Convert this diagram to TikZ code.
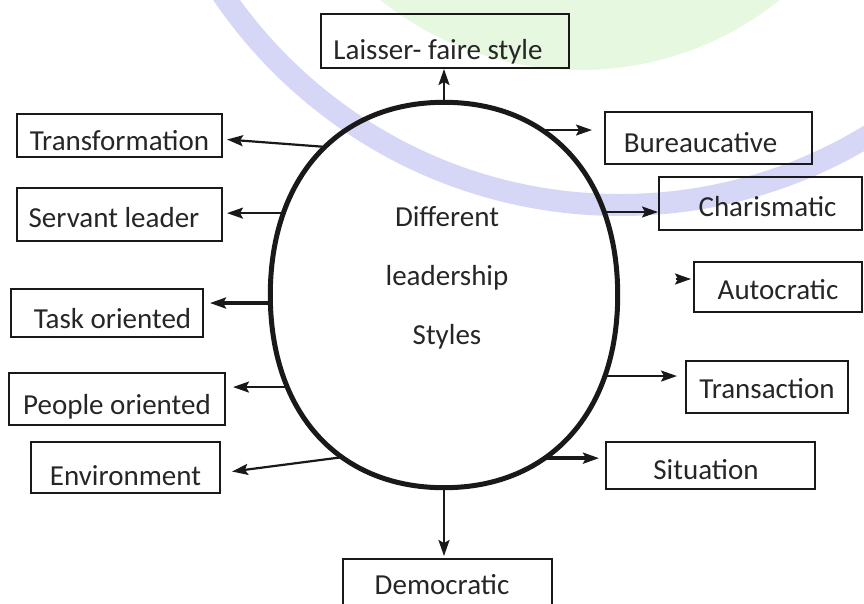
\documentclass[tikz,border=0pt]{standalone}
\usepackage{fontspec}
\setmainfont{Carlito}
\usepackage{tikz}
\usetikzlibrary{
  arrows.meta,
  shapes.geometric
}
\definecolor{sealband}{RGB}{214,214,246}
\definecolor{sealfill}{RGB}{230,248,224}

\begin{document}
\begin{tikzpicture}[
      x=1pt, y=-1pt,
      style box/.style={
         rectangle,
         draw=black!90,
         line width=2pt,
         inner sep=0pt,
         text=black!85,
         font=\fontsize{29}{35}\selectfont,
         text height=28pt,
         text depth=0pt
      },
      hub/.style={
         ellipse,
         inner sep=0pt,
         minimum width=347pt,
         minimum height=385pt
      },
      hub line/.style={
         draw=black!90,
         line width=5pt,
         line cap=round
      },
      hub text/.style={
         align=center,
         text=black!85,
         font=\fontsize{29}{59}\selectfont
      },
      >={Stealth[length=16pt,width=11pt,inset=3pt]},
      tip/.style={->,line width=2.2pt,draw=black!90},
      heavy tip/.style={->,line width=4pt,draw=black!90}
    ]
    \clip (0,0) rectangle (864,603);
    % faint seal behind the chart
    \fill[sealfill] (580,-250) circle[radius=320];
    \draw[sealband, line width=22pt] (620,-275) circle[radius=480];

    \node (core) [hub] at (444,295) {};
    % a fuller oval than a plain ellipse
    \path[hub line] (core.north)
       .. controls ([xshift=105.8pt]core.north) and ([yshift=117.4pt]core.east) ..
          coordinate[pos=0.36] (p-bureau) coordinate[pos=0.738] (p-charis) (core.east)
       .. controls ([yshift=-117.4pt]core.east) and ([xshift=105.8pt]core.south) ..
          coordinate[pos=0.255] (p-trans) coordinate[pos=0.628] (p-situ) (core.south)
       .. controls ([xshift=-105.8pt]core.south) and ([yshift=-117.4pt]core.west) ..
          coordinate[pos=0.378] (p-envir) coordinate[pos=0.705] (p-people) coordinate[pos=0.977] (p-task) (core.west)
       .. controls ([yshift=117.4pt]core.west) and ([xshift=-105.8pt]core.north) ..
          coordinate[pos=0.258] (p-servant) coordinate[pos=0.54] (p-transf) (core.north);
    \node (title) [hub text] at (447,278) {Different\\leadership\\Styles};

    % \kern moves a label off the middle of its box
    \node (laisser) [style box, minimum width=248pt, minimum height=54pt, text height=37.8pt] at (445,41) {Laisser- faire style\kern14pt};
    \node (transformation) [style box, minimum width=205pt, minimum height=43pt, text height=29.8pt] at (119.5,135.5) {Transformation};
    \node (servant) [style box, minimum width=205pt, minimum height=53pt, text height=26.8pt] at (119.5,214.5) {Servant leader\kern11pt};
    \node (task) [style box, minimum width=192pt, minimum height=48pt, text height=30.8pt] at (107,313) {\kern11pt Task oriented};
    \node (people) [style box, minimum width=216pt, minimum height=52pt, text height=31.8pt] at (117,399) {People oriented};
    \node (environment) [style box, minimum width=189pt, minimum height=51pt, text height=36.8pt] at (125.5,467.5) {Environment};
    \node (democratic) [style box, minimum width=209pt, minimum height=60pt, text height=10.8pt] at (447.5,589) {Democratic\kern11pt};
    \node (situation) [style box, minimum width=209pt, minimum height=47pt, text height=28.8pt] at (710.5,465.5) {Situation\kern9pt};
    \node (transaction) [style box, minimum width=162pt, minimum height=52pt, text height=22.8pt] at (767,387) {Transaction};
    \node (autocratic) [style box, minimum width=168pt, minimum height=50pt, text height=25.8pt] at (778,287) {Autocratic};
    \node (charismatic) [style box, minimum width=203pt, minimum height=53pt, text height=25.8pt] at (760.5,203.5) {\kern14pt Charismatic};
    \node (bureaucative) [style box, minimum width=207pt, minimum height=52pt, text height=28.8pt] at (708.5,138) {Bureaucative\kern16pt};
    \coordinate (autotail) at (676,279);

    \draw[tip] (core.north) -- (core.north |- laisser.south);
    \draw[tip] (p-transf) -- ([shift={(4,4)}]transformation.east);
    \draw[tip, shorten >=4pt] (p-servant) -- (p-servant -| servant.east);
    \draw[heavy tip, shorten >=6pt] (p-task) -- (p-task -| task.east);
    \draw[tip, shorten >=7pt] (p-people) -- (p-people -| people.east);
    \draw[tip] (p-envir) -- ([shift={(11,4)}]environment.east);
    \draw[tip, shorten >=2pt] (core.south) -- (core.south |- democratic.north);
    \draw[heavy tip, shorten >=6pt] (p-situ) -- (p-situ -| situation.west);
    \draw[tip, shorten >=8pt] (p-trans) -- (p-trans -| transaction.west);
    \draw[tip, shorten >=2pt] (autotail) -- (autotail -| autocratic.west);
    \draw[tip] (p-charis) -- (p-charis -| charismatic.west);
    \draw[tip, shorten >=12pt] (p-bureau) -- (p-bureau -| bureaucative.west);
\end{tikzpicture}
\end{document}
